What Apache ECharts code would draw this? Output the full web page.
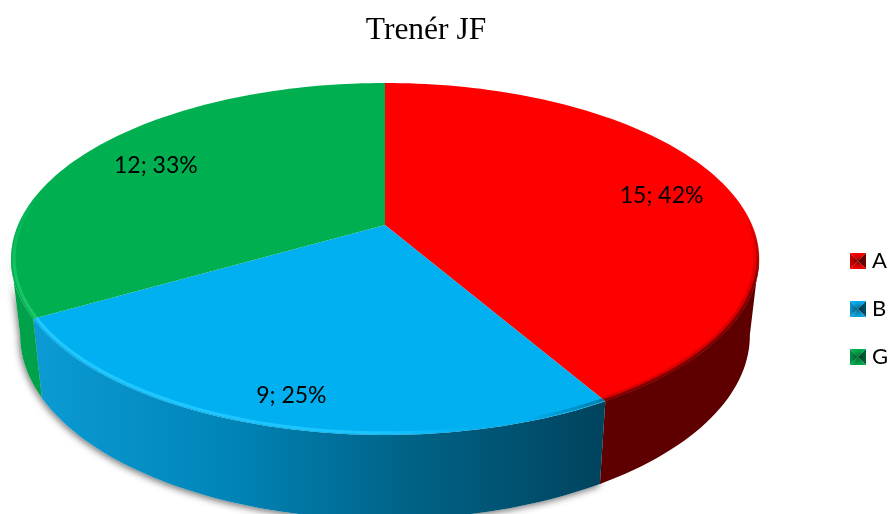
<!DOCTYPE html>
<html><head><meta charset="utf-8">
<style>html,body{margin:0;padding:0;background:#fff}#c{width:890px;height:514px}</style>
<script src="https://cdn.jsdelivr.net/npm/echarts@6/dist/echarts.min.js"></script>
</head><body><div id="c"></div>
<script>
const categories = ['A', 'B', 'G'];
const values = [15, 9, 12];
const percents = [42, 25, 33];
const topColors = ['#ff0000', '#00b0f0', '#00b050'];

// projection of the tilted pie (layout only, not data)
const CX = 385, K = -0.193;
const TOP = {w: 367, a: 126, b: 225}, BOT = {w: 358, a: 119, b: 300};
const LABEL_R = [0.815, 0.87, 0.775], LABEL_DY = [5, 1, 2], LABEL_DX = [-1, 5, 0];
const total = values.reduce((s, v) => s + v, 0);
const rad = d => d * Math.PI / 180;
function proj(p, deg, r) {
  const u = r * Math.sin(rad(deg)), v = -r * Math.cos(rad(deg)), d = 1 + K * v;
  return [CX + p.w * u / d, (p.a * v + p.b) / d];
}
function arc(p, a0, a1, r) {
  const pts = [], n = Math.max(2, Math.ceil(Math.abs(a1 - a0) / 1.5));
  for (let i = 0; i <= n; i++) pts.push(proj(p, a0 + (a1 - a0) * i / n, r === undefined ? 1 : r));
  return pts;
}
const H = (stops, x0, x1) => new echarts.graphic.LinearGradient(x0, 0, x1, 0,
  stops.map(s => ({offset: s[0], color: s[1]})), true);
const V = (stops, y0, y1) => new echarts.graphic.LinearGradient(0, y0, 0, y1,
  stops.map(s => ({offset: s[0], color: s[1]})), true);
const wallFill = [
  '#5e0000',
  H([[0, '#0b9ad3'], [0.33, '#0085b8'], [0.62, '#00668c'], [1, '#00445e']], 42, 602),
  '#00a14b'
];
// visible outer wall range per slice, in degrees clockwise from top
const wallRange = [[101, 150], [150, 240], [240, 259]];
const rimRange = [[85, 150], [150, 240], [240, 292]];
// rim layers per slice: stroke, inset radius, width
const rimLayers = [
  [[V([[0, 'rgba(150,0,0,0)'], [1, 'rgba(150,0,0,.35)']], 215, 290), 0.99, 4],
   [V([[0, 'rgba(110,0,0,0)'], [1, 'rgba(110,0,0,.85)']], 215, 290), 0.997, 3]],
  [[H([[0, '#22c8ff'], [0.6, '#1cc4ff'], [0.78, 'rgba(28,196,255,0)'], [0.86, 'rgba(0,70,100,0)'], [1, 'rgba(0,70,100,.5)']], 36, 605), 0.992, 3]],
  [[V([[0, 'rgba(24,196,100,0)'], [0.7, '#18c464'], [1, '#1cc76a']], 190, 318), 0.992, 3]]
];

let cum = 0;
const series = categories.map((name, i) => {
  const start = cum / total * 360; cum += values[i];
  const end = cum / total * 360;
  return {
    type: 'custom', name, coordinateSystem: 'none', animation: false, silent: true,
    itemStyle: {color: topColors[i]},
    data: [[start, end, values[i], percents[i]]],
    renderItem(params, api) {
      const a0 = api.value(0), a1 = api.value(1), mid = (a0 + a1) / 2;
      const wr = wallRange[i], rr = rimRange[i];
      const top = [[CX, TOP.b]].concat(arc(TOP, a0, a1));
      const wallPts = arc(TOP, wr[0], wr[1]).concat(arc(BOT, wr[1], wr[0]));
      const lr = LABEL_R[i], lp = proj(TOP, mid, lr);
      const kids = [];
      if (i !== 0) kids.push({type: 'polygon', z2: -1, shape: {points: wallPts},
        style: {fill: '#fff', shadowColor: 'rgba(0,0,0,.55)', shadowBlur: 7, shadowOffsetX: -1, shadowOffsetY: 2}});
      kids.push({type: 'polygon', z2: 1, shape: {points: wallPts}, style: {fill: wallFill[i]}});
      kids.push({type: 'polygon', z2: 2, shape: {points: top}, style: {fill: topColors[i]}});
      rimLayers[i].forEach(l => kids.push({type: 'polyline', z2: 3, shape: {points: arc(TOP, rr[0], rr[1], l[1])},
        style: {fill: null, stroke: l[0], lineWidth: l[2]}}));
      kids.push({type: 'text', z2: 4, style: {
        x: lp[0] + LABEL_DX[i], y: lp[1] + LABEL_DY[i], text: api.value(2) + '; ' + api.value(3) + '%',
        fontFamily: 'Lato', fontSize: 23, fill: '#000', align: 'center', verticalAlign: 'middle'}});
      return {type: 'group', children: kids};
    }
  };
});

function icon(t, l, r, b) {
  const svg = `<svg xmlns="http://www.w3.org/2000/svg" width="16" height="16">` +
    `<defs><radialGradient id="g"><stop offset="0" stop-color="#000" stop-opacity=".35"/><stop offset="1" stop-color="#000" stop-opacity="0"/></radialGradient></defs>` +
    `<polygon points="0,0 16,0 8,8" fill="${t}"/><polygon points="0,0 8,8 0,16" fill="${l}"/>` +
    `<polygon points="16,0 16,16 8,8" fill="${r}"/><polygon points="0,16 16,16 8,8" fill="${b}"/>` +
    `<rect width="16" height="16" fill="url(#g)"/></svg>`;
  return 'image://data:image/svg+xml;charset=utf-8,' + encodeURIComponent(svg);
}
const icons = [
  icon('#ff0000', '#c80000', '#700000', '#f00000'),
  icon('#00b0f0', '#0a8fc6', '#004e6c', '#0aa4de'),
  icon('#00b050', '#009244', '#005f2e', '#00a64b')
];

const chart = echarts.init(document.getElementById('c'), null, {renderer: 'canvas'});
chart.setOption({
  animation: false,
  backgroundColor: '#fff',
  title: {text: 'Trenér JF', left: 421, top: 10, textAlign: 'center',
    textStyle: {fontFamily: 'Liberation Serif', fontSize: 31.5, fontWeight: 'normal', color: '#000'}},
  legend: {orient: 'vertical', left: 850, top: 250, itemWidth: 16, itemHeight: 16, itemGap: 26,
    selectedMode: false, padding: 0,
    textStyle: {fontFamily: 'Lato', fontSize: 22, lineHeight: 22, color: '#000', padding: [0, 0, 0, 1]},
    data: categories.map((name, i) => ({name, icon: icons[i]}))},
  series
});
</script></body></html>
